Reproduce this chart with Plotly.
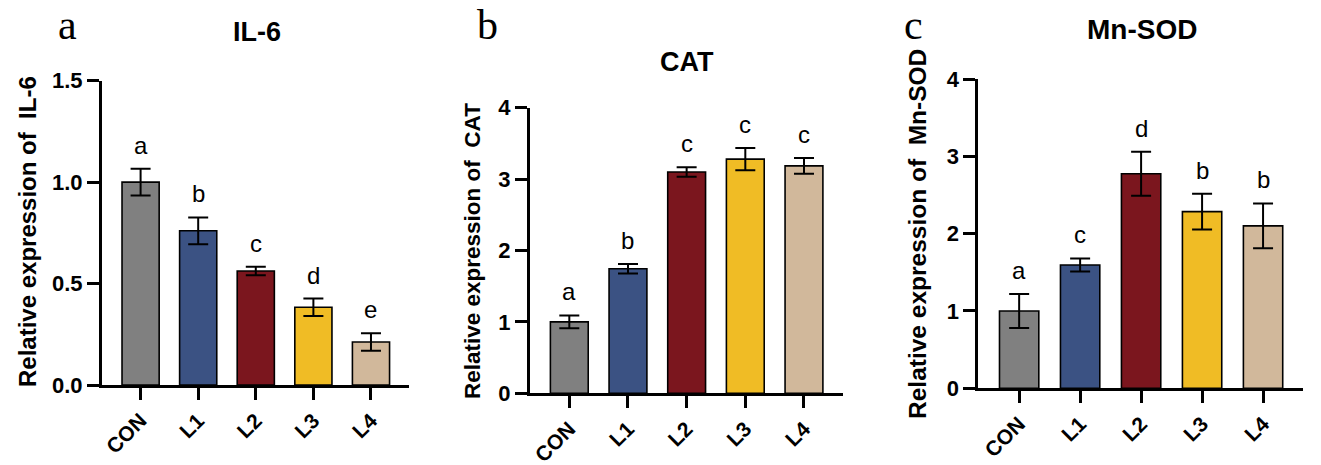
import plotly.graph_objects as go

W, H = 1321, 465

groups = ["CON", "L1", "L2", "L3", "L4"]
colors = ["#808080", "#3B5283", "#7B161E", "#F0BC25", "#D1B89B"]

il6_mean = [1.00, 0.76, 0.562, 0.383, 0.212]
il6_err = [0.066, 0.066, 0.021, 0.043, 0.043]
il6_letters = ["a", "b", "c", "d", "e"]

cat_mean = [1.00, 1.745, 3.10, 3.28, 3.185]
cat_err = [0.09, 0.066, 0.066, 0.155, 0.11]
cat_letters = ["a", "b", "c", "c", "c"]

sod_mean = [1.00, 1.595, 2.775, 2.285, 2.10]
sod_err = [0.22, 0.085, 0.285, 0.23, 0.29]
sod_letters = ["a", "c", "d", "b", "b"]

panels = [
    dict(mean=il6_mean, err=il6_err, letters=il6_letters, title="IL-6", gene="IL-6",
         tag="a", yrange=[0, 1.5], dtick=0.5, fmt=".1f",
         xpx=(102, 409), ypx=(80.7, 385), title_xy=(257, 32), tag_x=67,
         ytitle_xy=(27, 232), ytitle_size=24, title_size=27),
    dict(mean=cat_mean, err=cat_err, letters=cat_letters, title="CAT", gene="CAT",
         tag="b", yrange=[0, 4], dtick=1, fmt="d",
         xpx=(530, 842.7), ypx=(107.7, 393.3), title_xy=(687, 62), tag_x=487,
         ytitle_xy=(472, 251), ytitle_size=22.5, title_size=27),
    dict(mean=sod_mean, err=sod_err, letters=sod_letters, title="Mn-SOD", gene="Mn-SOD",
         tag="c", yrange=[0, 4], dtick=1, fmt="d",
         xpx=(978.3, 1303.3), ypx=(79, 388.3), title_xy=(1142, 30), tag_x=913,
         ytitle_xy=(918, 234), ytitle_size=24.5, title_size=28),
]

FONT = "Arial, Liberation Sans, sans-serif"
fig = go.Figure()
annotations = []

for i, p in enumerate(panels):
    n = "" if i == 0 else str(i + 1)
    xa, ya = "x" + n, "y" + n
    fig.add_trace(go.Bar(
        x=list(range(len(groups))), y=p["mean"],
        marker=dict(color=colors, line=dict(color="black", width=1.6)),
        width=0.645,
        error_y=dict(type="data", array=p["err"], visible=True, color="black",
                     thickness=2, width=10),
        xaxis=xa, yaxis=ya, showlegend=False, hoverinfo="skip",
    ))
    x0, x1 = p["xpx"]
    yt, yb = p["ypx"]
    fig.layout["xaxis" + n] = dict(
        domain=[x0 / W, x1 / W], range=[-0.67, 4.66], anchor=ya,
        tickmode="array", tickvals=list(range(len(groups))), ticktext=groups,
        tickangle=-45, ticks="outside", ticklen=12, tickwidth=3, tickcolor="black",
        showline=True, linecolor="black", linewidth=3, showgrid=False, zeroline=False,
        tickfont=dict(family=FONT, size=21, color="black", weight="bold"),
        ticklabelstandoff=0, automargin=False,
        fixedrange=True,
    )
    fig.layout["yaxis" + n] = dict(
        domain=[1 - yb / H, 1 - yt / H], range=p["yrange"], anchor=xa,
        dtick=p["dtick"], tick0=0, tickformat=p["fmt"],
        ticks="outside", ticklen=12, tickwidth=3, tickcolor="black",
        showline=True, linecolor="black", linewidth=3, showgrid=False, zeroline=False,
        tickfont=dict(family=FONT, size=22, color="black", weight="bold"),
        automargin=False, fixedrange=True,
    )
    # significance letters
    for j, lt in enumerate(p["letters"]):
        annotations.append(dict(
            x=j, y=p["mean"][j] + p["err"][j], xref=xa, yref=ya, text=lt,
            showarrow=False, yanchor="bottom", yshift=8,
            font=dict(family=FONT, size=24, color="black"),
        ))
    # chart title
    tx, ty = p["title_xy"]
    annotations.append(dict(
        x=tx / W, y=1 - ty / H, xref="paper", yref="paper", text="<b>%s</b>" % p["title"],
        showarrow=False, xanchor="center", yanchor="middle",
        font=dict(family=FONT, size=p["title_size"], color="black"),
    ))
    # panel tag
    annotations.append(dict(
        x=p["tag_x"] / W, y=1, xref="paper", yref="paper", text=p["tag"],
        showarrow=False, xanchor="center", yanchor="top",
        font=dict(family="Liberation Serif, Times New Roman, serif", size=42, color="black"),
    ))
    # y-axis title
    yx, yy = p["ytitle_xy"]
    annotations.append(dict(
        x=yx / W, y=1 - yy / H, xref="paper", yref="paper",
        text="<b>Relative expression of\u00a0\u00a0%s</b>" % p["gene"],
        showarrow=False, xanchor="center", yanchor="middle", textangle=-90,
        font=dict(family=FONT, size=p["ytitle_size"], color="black"),
    ))

fig.update_layout(
    width=W, height=H, margin=dict(l=0, r=0, t=0, b=0, pad=0, autoexpand=False),
    paper_bgcolor="white", plot_bgcolor="white",
    annotations=annotations, bargap=0.3,
)

fig.write_html("out.html", config={"displayModeBar": False})
